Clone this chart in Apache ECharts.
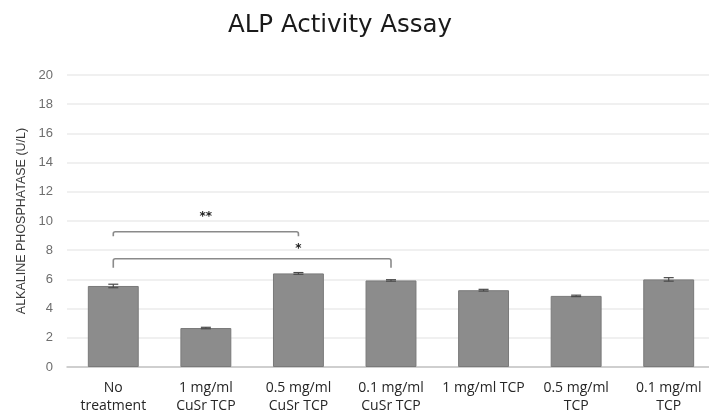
<!DOCTYPE html>
<html>
<head>
<meta charset="utf-8">
<script src="https://cdn.jsdelivr.net/npm/echarts@6/dist/echarts.min.js"></script>
<style>
  html, body { margin: 0; padding: 0; background: #fff; }
  #chart { width: 709px; height: 411px; }
</style>
</head>
<body>
<div id="chart"></div>
<script>
const categories = [
  "No\ntreatment",
  "1 mg/ml\nCuSr TCP",
  "0.5 mg/ml\nCuSr TCP",
  "0.1 mg/ml\nCuSr TCP",
  "1 mg/ml TCP",
  "0.5 mg/ml\nTCP",
  "0.1 mg/ml\nTCP"
];
const alpValues = [5.55, 2.67, 6.41, 5.93, 5.26, 4.87, 6.0];
const alpErrors = [0.12, 0.05, 0.06, 0.05, 0.06, 0.05, 0.12];
const yTicks = [0, 2, 4, 6, 8, 10, 12, 14, 16, 18, 20];

// significance brackets: [fromIndex, toIndex, topValue, legBottomValue, labelIndex, labelValue]
const brackets = [
  [0, 2, 9.26, 8.96, 1.02, 10.28],
  [0, 3, 7.41, 6.79, 1.61, 8.07]
];
const bracketLabels = ["**", "*"];

const chart = echarts.init(document.getElementById("chart"));

const errorData = alpValues.map((v, i) => [i, v - alpErrors[i], v + alpErrors[i]]);

const option = {
  animation: false,
  title: {
    text: "ALP Activity Assay",
    left: 335,
    textAlign: "center",
    top: 8,
    textStyle: {
      fontFamily: "DejaVu Sans",
      fontSize: 24.5,
      fontWeight: "normal",
      color: "#1a1a1a"
    }
  },
  grid: {
    left: 67,
    right: -6,
    top: 75,
    bottom: 44,
    outerBoundsMode: "none"
  },
  xAxis: {
    type: "category",
    data: categories,
    axisTick: { show: false },
    axisLine: { lineStyle: { color: "#c4c4c4", width: 1.5 } },
    axisLabel: {
      interval: 0,
      margin: 12,
      fontFamily: "Open Sans",
      fontSize: 14,
      lineHeight: 18,
      color: "#262626"
    }
  },
  yAxis: {
    type: "value",
    min: 0,
    max: 20,
    interval: 2,
    name: "ALKALINE PHOSPHATASE (U/L)",
    nameLocation: "middle",
    nameGap: 36,
    nameTextStyle: {
      fontFamily: "Liberation Sans",
      fontSize: 12.5,
      color: "#3a3a3a"
    },
    axisLine: { show: false },
    axisTick: { show: false },
    axisLabel: {
      margin: 14,
      fontFamily: "Liberation Sans",
      fontSize: 13,
      color: "#6e6e6e",
      formatter: v => (yTicks.includes(v) ? String(v) : "")
    },
    splitLine: { lineStyle: { color: "#ebebeb", width: 1.5 } }
  },
  series: [
    {
      type: "bar",
      data: alpValues,
      barWidth: "55%",
      itemStyle: { color: "#8c8c8c", borderColor: "#7a7a7a", borderWidth: 1 }
    },
    {
      type: "custom",
      data: errorData,
      encode: { x: 0, y: [1, 2] },
      z: 5,
      renderItem: function (params, api) {
        const x = api.value(0);
        const lo = api.coord([x, api.value(1)]);
        const hi = api.coord([x, api.value(2)]);
        const cap = 5;
        const style = { stroke: "#4a4a4a", lineWidth: 1.2 };
        return {
          type: "group",
          children: [
            { type: "line", shape: { x1: lo[0], y1: lo[1], x2: hi[0], y2: hi[1] }, style },
            { type: "line", shape: { x1: lo[0] - cap, y1: lo[1], x2: lo[0] + cap, y2: lo[1] }, style },
            { type: "line", shape: { x1: hi[0] - cap, y1: hi[1], x2: hi[0] + cap, y2: hi[1] }, style }
          ]
        };
      }
    },
    {
      type: "custom",
      data: brackets,
      encode: { x: [0, 1], y: [2, 3] },
      z: 6,
      renderItem: function (params, api) {
        const a = api.value(0), b = api.value(1);
        const top = api.value(2), bottom = api.value(3);
        const p1 = api.coord([a, bottom]);
        const p2 = api.coord([a, top]);
        const p3 = api.coord([b, top]);
        const p4 = api.coord([b, bottom]);
        const t = api.coord([api.value(4), api.value(5)]);
        const r = 2;
        return {
          type: "group",
          children: [
            {
              type: "path",
              shape: {
                pathData:
                  "M" + p1[0] + " " + p1[1] +
                  " L" + p2[0] + " " + (p2[1] + r) +
                  " Q" + p2[0] + " " + p2[1] + " " + (p2[0] + r) + " " + p2[1] +
                  " L" + (p3[0] - r) + " " + p3[1] +
                  " Q" + p3[0] + " " + p3[1] + " " + p3[0] + " " + (p3[1] + r) +
                  " L" + p4[0] + " " + p4[1]
              },
              style: { fill: null, stroke: "#8a8a8a", lineWidth: 1.6 }
            },
            {
              type: "text",
              x: t[0],
              y: t[1],
              style: {
                text: bracketLabels[params.dataIndex],
                fontFamily: "DejaVu Sans",
                fontSize: 12,
                fontWeight: "bold",
                fill: "#222",
                align: "center",
                verticalAlign: "middle"
              }
            }
          ]
        };
      }
    }
  ]
};

chart.setOption(option);
</script>
</body>
</html>
